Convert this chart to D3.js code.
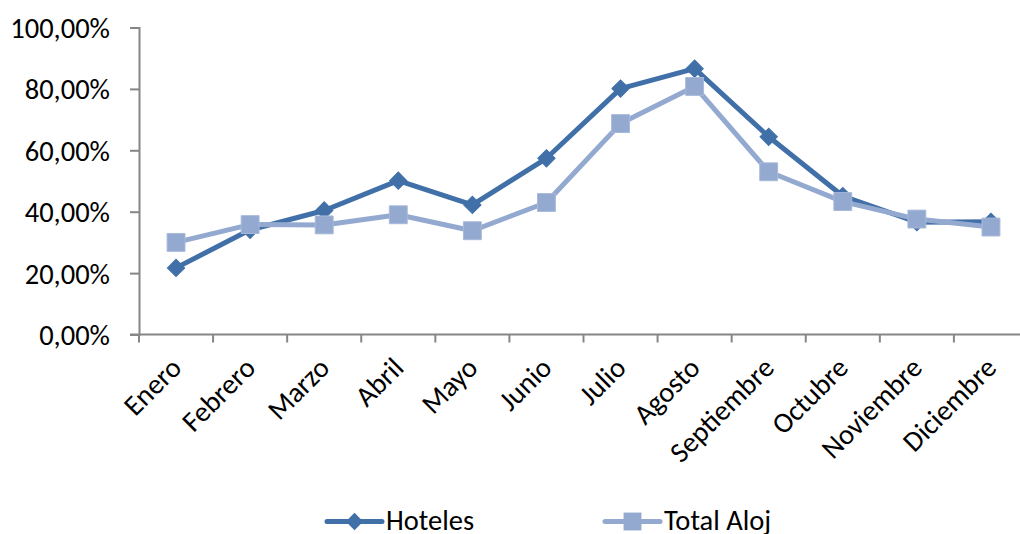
<!DOCTYPE html>
<html>
<head>
<meta charset="utf-8">
<script src="https://cdnjs.cloudflare.com/ajax/libs/d3/7.8.5/d3.min.js"></script>
<style>
  body { margin: 0; background: #fff; }
  #chart { width: 1020px; height: 534px; overflow: hidden; }
  text { font-family: Carlito, "Open Sans", sans-serif; fill: #000; }
</style>
</head>
<body>
<div id="chart"></div>
<script>
// data
const months = ["Enero", "Febrero", "Marzo", "Abril", "Mayo", "Junio", "Julio", "Agosto", "Septiembre", "Octubre", "Noviembre", "Diciembre"];
const hoteles = [0.217, 0.341, 0.404, 0.501, 0.422, 0.574, 0.801, 0.866, 0.644, 0.451, 0.366, 0.367];
const totalAloj = [0.300, 0.358, 0.357, 0.390, 0.338, 0.430, 0.687, 0.808, 0.530, 0.433, 0.376, 0.350];
const yTicks = [0, 0.2, 0.4, 0.6, 0.8, 1.0];

const series = [
    {name: "Hoteles", values: hoteles, color: "#4170A8", marker: "diamond"},
    {name: "Total Aloj", values: totalAloj, color: "#93A9D0", marker: "square"}
];

let margin = {top: 27.5, left: 139, right: -8, bottom: 199.5};
let width = 1020 - margin.left - margin.right;
let height = 534 - margin.top - margin.bottom;

let svg = d3.select("#chart").append("svg")
    .attr("width", 1020)
    .attr("height", 534);

let g = svg.append("g")
    .attr("transform", "translate(" + margin.left + "," + margin.top + ")");

let x = d3.scaleBand().domain(months).range([0, width]).padding(0);
let y = d3.scaleLinear().domain([0, 1]).range([height, 0]);
let cx = d => x(d) + x.bandwidth() / 2;

// y axis
let yAxis = d3.axisLeft(y)
    .tickValues(yTicks)
    .tickSize(9)
    .tickPadding(20)
    .tickFormat(d => d3.format(".2f")(d * 100).replace(".", ",") + "%");

let yg = g.append("g").call(yAxis);
yg.select(".domain").attr("stroke", "#868686").attr("stroke-width", 2);
yg.selectAll(".tick line").attr("stroke", "#868686").attr("stroke-width", 2);
yg.selectAll(".tick text").style("font-size", "28.5px").attr("dy", "0.35em");

// x axis (ticks between categories, like the original)
let xg = g.append("g").attr("transform", "translate(0," + height + ")");
xg.append("line")
    .attr("x1", -9).attr("x2", width)
    .attr("stroke", "#868686").attr("stroke-width", 2);
xg.selectAll(".xtick").data(months.concat(["end"]))
    .enter().append("line")
    .attr("class", "xtick")
    .attr("x1", (d, i) => i * x.bandwidth())
    .attr("x2", (d, i) => i * x.bandwidth())
    .attr("y1", 0).attr("y2", 8)
    .attr("stroke", "#868686").attr("stroke-width", 2);
xg.selectAll(".xlab").data(months)
    .enter().append("text")
    .attr("class", "xlab")
    .attr("text-anchor", "end")
    .attr("transform", d => "translate(" + (cx(d) + 7) + ",35) rotate(-45)")
    .style("font-size", "28.5px")
    .text(d => d);

// lines and markers
let line = d3.line()
    .x((d, i) => cx(months[i]))
    .y(d => y(d));

let diamond = d3.symbol().type(d3.symbolSquare).size(150);
let square = d3.symbol().type(d3.symbolSquare).size(320);

series.forEach(s => {
    let sg = g.append("g");
    sg.append("path")
        .datum(s.values)
        .attr("fill", "none")
        .attr("stroke", s.color)
        .attr("stroke-width", 5)
        .attr("stroke-linejoin", "round")
        .attr("d", line);

    sg.selectAll(".pt").data(s.values)
        .enter().append("path")
        .attr("class", "pt")
        .attr("d", s.marker === "diamond" ? diamond : square)
        .attr("transform", (d, i) => "translate(" + cx(months[i]) + "," + y(d) + ")" + (s.marker === "diamond" ? " rotate(45)" : ""))
        .attr("fill", s.color)
        .attr("stroke", s.marker === "diamond" ? s.color : "#A8B9DA")
        .attr("stroke-width", 1);
});

// legend (cut at the bottom edge, as in the original)
let legend = svg.append("g").attr("transform", "translate(0,521.5)");
let legendX = [327, 605];
series.forEach((s, i) => {
    let lg = legend.append("g").attr("transform", "translate(" + legendX[i] + ",0)");
    lg.append("line")
        .attr("x1", 0).attr("x2", 55)
        .attr("stroke", s.color).attr("stroke-width", 5)
        .attr("stroke-linecap", "round");
    lg.append("path")
        .attr("d", s.marker === "diamond" ? diamond : square)
        .attr("transform", "translate(27.5,0)" + (s.marker === "diamond" ? " rotate(45)" : ""))
        .attr("fill", s.color);
    lg.append("text")
        .attr("x", 59)
        .attr("y", 8.5)
        .style("font-size", "28.5px")
        .text(s.name);
});
</script>
</body>
</html>
